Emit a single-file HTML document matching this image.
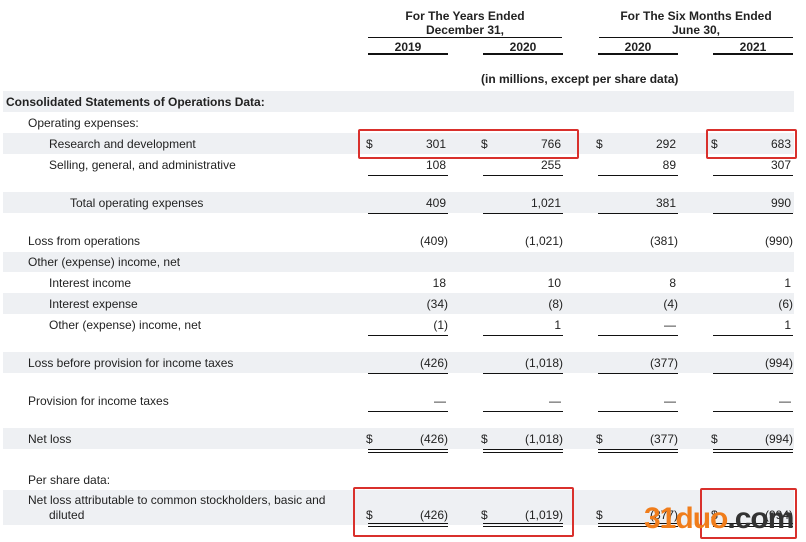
<!DOCTYPE html>
<html><head><meta charset="utf-8"><style>
body{margin:0;width:806px;height:542px;background:#fff;position:relative;overflow:hidden;font-family:"Liberation Sans",Arial,sans-serif;font-size:12px;color:#222}
.a{position:absolute;white-space:nowrap;line-height:14px}
.band{position:absolute;left:3px;width:791px;background:#eef0f3}
.r{text-align:right;width:80px}
.l{position:absolute;height:1px;background:#111}
.box{position:absolute;border:2px solid #d9302c;border-radius:2px}
.b{font-weight:bold}
.d{position:absolute;width:80px;height:4px;border-top:1px solid #111;border-bottom:1px solid #111;box-sizing:border-box}
</style></head><body>
<div class="band" style="top:91px;height:21px"></div>
<div class="band" style="top:133px;height:21px"></div>
<div class="band" style="top:192px;height:21px"></div>
<div class="band" style="top:252px;height:20px"></div>
<div class="band" style="top:293px;height:21px"></div>
<div class="band" style="top:352px;height:21px"></div>
<div class="band" style="top:428px;height:21px"></div>
<div class="band" style="top:490px;height:35px"></div>

<div class="a b" style="left:368px;top:9px;width:194px;text-align:center">For The Years Ended<br>December 31,</div>
<div class="a b" style="left:599px;top:9px;width:194px;text-align:center">For The Six Months Ended<br>June 30,</div>
<div class="l" style="left:368px;top:37px;width:194px"></div>
<div class="l" style="left:599px;top:37px;width:194px"></div>
<div class="a b" style="left:368px;top:40px;width:80px;text-align:center">2019</div>
<div class="a b" style="left:483px;top:40px;width:80px;text-align:center">2020</div>
<div class="a b" style="left:598px;top:40px;width:80px;text-align:center">2020</div>
<div class="a b" style="left:713px;top:40px;width:80px;text-align:center">2021</div>
<div class="l" style="left:368px;top:53px;width:80px;height:2px"></div>
<div class="l" style="left:483px;top:53px;width:80px;height:2px"></div>
<div class="l" style="left:598px;top:53px;width:80px;height:2px"></div>
<div class="l" style="left:713px;top:53px;width:80px;height:2px"></div>
<div class="a b" style="left:481px;top:72px">(in millions, except per share data)</div>

<div class="a b" style="left:6px;top:95px">Consolidated Statements of Operations Data:</div>
<div class="a" style="left:28px;top:116px">Operating expenses:</div>
<div class="a" style="left:49px;top:137px">Research and development</div>
<div class="a" style="left:49px;top:158px">Selling, general, and administrative</div>
<div class="a" style="left:70px;top:196px">Total operating expenses</div>
<div class="a" style="left:28px;top:234px">Loss from operations</div>
<div class="a" style="left:28px;top:255px">Other (expense) income, net</div>
<div class="a" style="left:49px;top:276px">Interest income</div>
<div class="a" style="left:49px;top:297px">Interest expense</div>
<div class="a" style="left:49px;top:318px">Other (expense) income, net</div>
<div class="a" style="left:28px;top:356px">Loss before provision for income taxes</div>
<div class="a" style="left:28px;top:394px">Provision for income taxes</div>
<div class="a" style="left:28px;top:432px">Net loss</div>
<div class="a" style="left:28px;top:473px">Per share data:</div>
<div class="a" style="left:28px;top:493px;line-height:15px">Net loss attributable to common stockholders, basic and</div>
<div class="a" style="left:49px;top:508px;line-height:15px">diluted</div>

<div class="a" style="left:366px;top:137px">$</div><div class="a" style="left:481px;top:137px">$</div><div class="a" style="left:596px;top:137px">$</div><div class="a" style="left:711px;top:137px">$</div>
<div class="a" style="left:366px;top:432px">$</div><div class="a" style="left:481px;top:432px">$</div><div class="a" style="left:596px;top:432px">$</div><div class="a" style="left:711px;top:432px">$</div>
<div class="a" style="left:366px;top:508px">$</div><div class="a" style="left:481px;top:508px">$</div><div class="a" style="left:596px;top:508px">$</div><div class="a" style="left:711px;top:508px">$</div>

<div class="a r" style="left:366px;top:137px">301</div><div class="a r" style="left:481px;top:137px">766</div><div class="a r" style="left:596px;top:137px">292</div><div class="a r" style="left:711px;top:137px">683</div>
<div class="a r" style="left:366px;top:158px">108</div><div class="a r" style="left:481px;top:158px">255</div><div class="a r" style="left:596px;top:158px">89</div><div class="a r" style="left:711px;top:158px">307</div>
<div class="a r" style="left:366px;top:196px">409</div><div class="a r" style="left:481px;top:196px">1,021</div><div class="a r" style="left:596px;top:196px">381</div><div class="a r" style="left:711px;top:196px">990</div>
<div class="a r" style="left:368px;top:234px">(409)</div><div class="a r" style="left:483px;top:234px">(1,021)</div><div class="a r" style="left:598px;top:234px">(381)</div><div class="a r" style="left:713px;top:234px">(990)</div>
<div class="a r" style="left:366px;top:276px">18</div><div class="a r" style="left:481px;top:276px">10</div><div class="a r" style="left:596px;top:276px">8</div><div class="a r" style="left:711px;top:276px">1</div>
<div class="a r" style="left:368px;top:297px">(34)</div><div class="a r" style="left:483px;top:297px">(8)</div><div class="a r" style="left:598px;top:297px">(4)</div><div class="a r" style="left:713px;top:297px">(6)</div>
<div class="a r" style="left:368px;top:318px">(1)</div><div class="a r" style="left:481px;top:318px">1</div><div class="a r" style="left:596px;top:318px">—</div><div class="a r" style="left:711px;top:318px">1</div>
<div class="a r" style="left:368px;top:356px">(426)</div><div class="a r" style="left:483px;top:356px">(1,018)</div><div class="a r" style="left:598px;top:356px">(377)</div><div class="a r" style="left:713px;top:356px">(994)</div>
<div class="a r" style="left:366px;top:394px">—</div><div class="a r" style="left:481px;top:394px">—</div><div class="a r" style="left:596px;top:394px">—</div><div class="a r" style="left:711px;top:394px">—</div>
<div class="a r" style="left:368px;top:432px">(426)</div><div class="a r" style="left:483px;top:432px">(1,018)</div><div class="a r" style="left:598px;top:432px">(377)</div><div class="a r" style="left:713px;top:432px">(994)</div>
<div class="a r" style="left:368px;top:508px">(426)</div><div class="a r" style="left:483px;top:508px">(1,019)</div><div class="a r" style="left:598px;top:508px">(377)</div><div class="a r" style="left:713px;top:508px">(994)</div>

<div class="l" style="left:368px;top:175px;width:80px"></div><div class="l" style="left:483px;top:175px;width:80px"></div><div class="l" style="left:598px;top:175px;width:80px"></div><div class="l" style="left:713px;top:175px;width:80px"></div>
<div class="l" style="left:368px;top:213px;width:80px"></div><div class="l" style="left:483px;top:213px;width:80px"></div><div class="l" style="left:598px;top:213px;width:80px"></div><div class="l" style="left:713px;top:213px;width:80px"></div>
<div class="l" style="left:368px;top:335px;width:80px"></div><div class="l" style="left:483px;top:335px;width:80px"></div><div class="l" style="left:598px;top:335px;width:80px"></div><div class="l" style="left:713px;top:335px;width:80px"></div>
<div class="l" style="left:368px;top:373px;width:80px"></div><div class="l" style="left:483px;top:373px;width:80px"></div><div class="l" style="left:598px;top:373px;width:80px"></div><div class="l" style="left:713px;top:373px;width:80px"></div>
<div class="l" style="left:368px;top:411px;width:80px"></div><div class="l" style="left:483px;top:411px;width:80px"></div><div class="l" style="left:598px;top:411px;width:80px"></div><div class="l" style="left:713px;top:411px;width:80px"></div>
<div class="d" style="left:368px;top:449px"></div><div class="d" style="left:483px;top:449px"></div><div class="d" style="left:598px;top:449px"></div><div class="d" style="left:713px;top:449px"></div>
<div class="d" style="left:368px;top:523px"></div><div class="d" style="left:483px;top:523px"></div><div class="d" style="left:598px;top:523px"></div><div class="d" style="left:713px;top:523px"></div>

<div class="box" style="left:358px;top:129px;width:217px;height:26px"></div>
<div class="box" style="left:706px;top:129px;width:87px;height:26px"></div>
<div class="box" style="left:353px;top:487px;width:217px;height:46px"></div>
<div class="box" style="left:700px;top:488px;width:93px;height:47px"></div>

<div class="a" style="left:644px;top:503px;font-size:30px;line-height:32px;font-weight:bold;letter-spacing:-1px"><span style="color:#f07d1b">31duo</span><span style="color:#333">.com</span></div>
</body></html>
